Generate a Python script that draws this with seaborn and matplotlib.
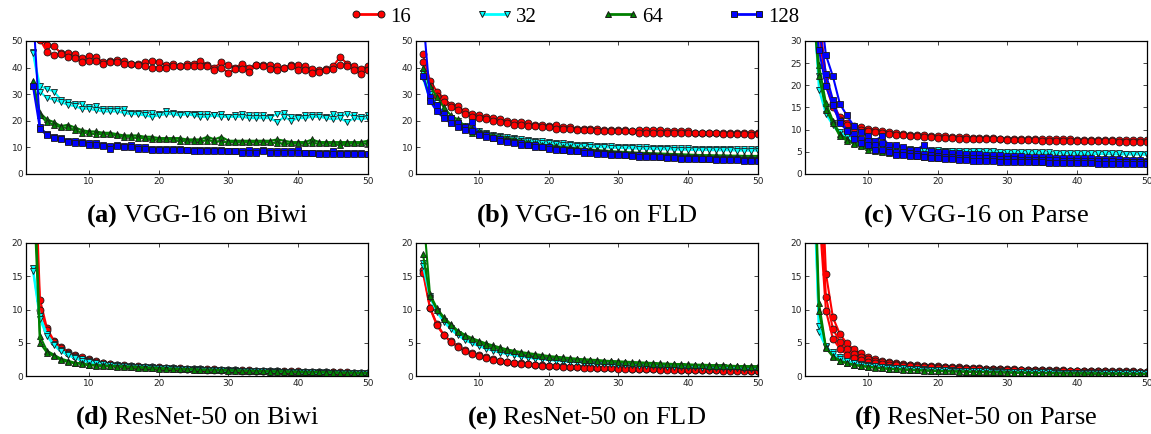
import seaborn as sns
import matplotlib.pyplot as plt
import pandas as pd
from matplotlib.lines import Line2D

sns.set_theme(style="ticks", rc={"xtick.direction": "in", "ytick.direction": "in",
                                 "xtick.top": True, "ytick.right": True})
plt.rcParams["mathtext.fontset"] = "custom"
plt.rcParams["mathtext.rm"] = "Liberation Serif"
plt.rcParams["mathtext.bf"] = "Liberation Serif:bold"

# epochs 2..50, each list below holds one training run
epochs = list(range(2, 51))
batch_sizes = ["16", "32", "64", "128"]
colors = ["#ff0000", "#00ffff", "#008000", "#0000ff"]
markers = ["o", "v", "^", "s"]

# (a) VGG-16 on Biwi
vgg_biwi_16 = [
    [58, 51, 48.5, 48, 45.5, 45.5, 45, 43.5, 44.5, 44,
     42, 42.3, 43, 42.5, 41.5, 41.5, 42, 42.5, 42, 41,
     41.5, 40.5, 41.5, 41.5, 42.5, 41, 40, 42, 41, 40,
     41.5, 40, 41, 41, 41, 40.5, 40, 41, 41, 40.5,
     39.5, 39, 39.5, 40.5, 44, 41.5, 40.5, 39.5, 40.5],
    [56, 50.5, 46, 44.8, 45, 44, 43.5, 42, 42.5, 42.5,
     41.5, 42, 42, 41.5, 41.5, 41, 40.5, 40, 40, 40,
     40.5, 40.5, 40.5, 40.5, 40.5, 40.5, 39, 40, 38, 39.5,
     39.5, 38.5, 41, 40.5, 39.5, 39, 40, 40.5, 39, 39,
     38, 38.5, 39, 39.5, 41, 40.5, 39, 37.5, 39],
]
vgg_biwi_32 = [
    [46, 33, 32, 31, 28, 27, 26.5, 26.5, 25, 25.5,
     24.5, 24.5, 24.5, 24.5, 23, 23, 23, 23, 22.5, 23.5,
     23, 22.5, 22.5, 22.5, 22.5, 22.5, 22, 22.5, 21.5, 22,
     22.5, 22, 22, 22, 21.5, 22.5, 23, 21.5, 21.5, 22,
     22, 22, 21.5, 22.5, 22, 22.5, 22, 21.5, 22],
    [45.5, 31, 28.5, 28, 27, 26, 25.5, 24.5, 24.5, 24,
     23.5, 23.5, 23.5, 23, 22.5, 22.5, 22, 21.5, 22, 22.5,
     22.5, 22, 22.5, 22, 21.5, 21.5, 22, 21.5, 21.5, 21.5,
     21.5, 21, 21, 21, 21, 19.5, 21.5, 20, 21, 21,
     21.5, 21.5, 21, 20.5, 21, 19.5, 21, 20.5, 21],
]
vgg_biwi_64 = [
    [35, 23, 20.5, 19.5, 18, 18.5, 17.5, 16.5, 16, 16,
     15.5, 15.5, 15, 14.5, 14.5, 14.5, 14, 14, 13.5, 13.5,
     13.5, 13.5, 13, 13, 13, 14, 13, 14, 12.5, 12.5,
     12.5, 12.5, 12.5, 12.5, 12.5, 13, 12.5, 12, 12, 12,
     13, 12, 12, 12, 12, 12, 12, 12, 12.5],
    [33, 22, 19.5, 18.5, 17.5, 17.5, 16.5, 15.5, 15.5, 15,
     15, 15, 14.5, 14, 14, 13.5, 13.5, 13, 13, 13,
     13, 12.5, 12.5, 12.5, 12.5, 12.5, 12.5, 12, 12, 12,
     12, 12, 12, 12, 12, 11.5, 11.5, 11.5, 11.5, 11.5,
     11.5, 11.5, 11.5, 11.5, 11, 11.5, 11.5, 11.5, 11.5],
]
vgg_biwi_128 = [
    [62, 17.5, 15, 14, 13.5, 12.5, 12.5, 12, 11.5, 11.5,
     11, 10.5, 11, 10.5, 11, 10, 10, 9.5, 9.5, 9.5,
     9.5, 9.5, 9, 9, 9, 9, 9, 9, 8.5, 8.5,
     8.5, 9, 8.5, 9, 8.5, 8.5, 8.5, 8.5, 9, 8,
     8, 8, 8, 8.5, 8, 8, 8, 8, 7.5],
    [33, 17, 14.5, 13.5, 13, 12, 11.5, 11.5, 11, 11,
     10.5, 9.5, 10.5, 10, 10, 9.5, 9.5, 9, 9, 9,
     9, 9, 9, 8.5, 8.5, 8.5, 8.5, 8.5, 8.5, 8.5,
     8, 8, 8, 8.5, 8, 8, 8, 8, 8, 8,
     8, 7.5, 7.5, 7.5, 7.5, 7.5, 7.5, 7.5, 7.5],
]

# (b) VGG-16 on FLD
vgg_fld_16 = [
    [45, 35, 31, 28.5, 26, 25.5, 23.5, 22.5, 22, 21.5,
     21, 20.5, 20, 19.5, 19.5, 19, 18.5, 18.5, 18, 18.5,
     17.5, 17.5, 17, 17, 17, 17, 16.5, 16.5, 16.5, 16.5,
     16, 16.5, 16.5, 16.5, 16.5, 16, 16, 16, 16, 15.5,
     15.5, 15.5, 15.5, 15.5, 15.5, 15.5, 15.5, 15.5, 15.5],
    [42, 33, 29.5, 27, 25, 24, 22.5, 21.5, 21, 20.5,
     20, 19.5, 19, 18.5, 18.5, 18, 18, 17.5, 17.5, 17,
     17, 17, 16.5, 16.5, 16.5, 16, 16, 16, 16, 16,
     16, 15.5, 15.5, 15.5, 15.5, 15.5, 15.5, 15.5, 15.5, 15.5,
     15.5, 15.5, 15.5, 15, 15, 15, 15, 14.8, 15],
]
vgg_fld_32 = [
    [38, 30, 26, 23, 21, 20, 18, 17, 16, 15.5,
     14.8, 14.3, 13.8, 13.5, 13, 12.8, 12.5, 12.3, 12, 11.8,
     11.5, 11.3, 11, 11, 10.8, 10.6, 10.5, 10.4, 10.3, 10.2,
     10.1, 10, 10, 9.9, 9.8, 9.8, 9.7, 9.6, 9.6, 9.5,
     9.5, 9.5, 9.4, 9.4, 9.4, 9.3, 9.3, 9.3, 9.3],
    [36, 28, 25, 22.5, 20, 19, 17.5, 16.5, 15.5, 15,
     14.3, 13.8, 13.3, 13, 12.5, 12.3, 12, 11.8, 11.5, 11.3,
     11, 10.8, 10.5, 10.5, 10.3, 10.1, 10, 9.9, 9.8, 9.7,
     9.6, 9.5, 9.5, 9.4, 9.3, 9.3, 9.2, 9.1, 9.1, 9,
     9, 9, 8.9, 8.9, 8.9, 8.8, 8.8, 8.8, 8.8],
]
vgg_fld_64 = [
    [40, 33, 29, 25, 22, 20.5, 18, 17, 16, 15,
     14.5, 14, 13.5, 13, 12.5, 12, 11.5, 11, 10.8, 10.5,
     10.2, 10, 9.7, 9.5, 9.2, 9, 8.8, 8.6, 8.4, 8.3,
     8.1, 8, 7.9, 7.8, 7.7, 7.6, 7.5, 7.4, 7.3, 7.2,
     7.1, 7.1, 7, 7, 6.9, 6.9, 6.8, 6.8, 6.8],
    [37, 29, 25, 22, 20, 18, 17, 15.5, 15, 14.5,
     13.5, 13, 12.5, 12, 11.5, 11, 10.8, 10.5, 10.2, 9.8,
     9.5, 9.3, 9, 8.8, 8.5, 8.3, 8.1, 7.9, 7.7, 7.5,
     7.4, 7.2, 7.1, 7, 6.9, 6.8, 6.7, 6.6, 6.5, 6.4,
     6.4, 6.3, 6.3, 6.2, 6.2, 6.1, 6.1, 6, 6],
]
vgg_fld_128 = [
    [60, 29, 26, 22.5, 21, 19, 17.5, 19.5, 15, 14.5,
     13.5, 13, 12.5, 12, 11.5, 11, 10.8, 10.3, 10, 9.5,
     9, 9, 8.8, 8.5, 8.3, 8, 7.8, 7.5, 7.5, 7.3,
     7, 7, 6.8, 6.8, 6.5, 6.5, 6.3, 6.2, 6, 6,
     5.8, 5.8, 5.6, 5.6, 5.5, 5.5, 5.4, 5.3, 5.2],
    [37, 27.5, 23.5, 21, 19, 17.5, 16.5, 16, 14.5, 14,
     13.5, 12.5, 12, 11.5, 11, 10.8, 10.3, 10, 9.5, 9,
     9, 8.5, 8.5, 8, 8, 7.5, 7.5, 7.3, 7, 7,
     6.8, 6.5, 6.5, 6.3, 6.3, 6, 6, 5.8, 5.8, 5.6,
     5.5, 5.5, 5.3, 5.3, 5.2, 5.2, 5, 5, 4.9],
]

# (c) VGG-16 on Parse
vgg_parse_16 = [
    [48, 36, 22, 16, 12.8, 11.5, 10.8, 10.5, 10.2, 10,
     9.7, 9.4, 9.2, 9.1, 8.9, 8.8, 8.7, 8.6, 8.5, 8.5,
     8.4, 8.3, 8.3, 8.2, 8.1, 8.1, 8.1, 8, 8, 8,
     7.9, 7.9, 7.9, 7.8, 7.8, 7.8, 7.8, 7.8, 7.7, 7.7,
     7.7, 7.7, 7.7, 7.6, 7.6, 7.6, 7.6, 7.6, 7.6],
    [44, 32, 20, 15, 12.2, 11, 10.3, 10, 9.7, 9.5,
     9.2, 9, 8.8, 8.7, 8.6, 8.5, 8.4, 8.3, 8.2, 8.2,
     8.1, 8, 8, 7.9, 7.9, 7.8, 7.8, 7.8, 7.7, 7.7,
     7.7, 7.6, 7.6, 7.5, 7.5, 7.5, 7.5, 7.5, 7.4, 7.4,
     7.4, 7.4, 7.4, 7.4, 7.3, 7.3, 7.3, 7.3, 7.3],
]
vgg_parse_32 = [
    [45, 19, 13.5, 11, 9, 8, 7, 6.5, 6.2, 6,
     5.8, 5.7, 5.6, 5.5, 5.4, 5.3, 5.3, 5.2, 5.2, 5.1,
     5.1, 5, 5, 5, 4.9, 4.9, 4.9, 4.8, 4.8, 4.8,
     4.7, 4.7, 4.7, 4.7, 4.6, 4.6, 4.6, 4.6, 4.5, 4.5,
     4.5, 4.5, 4.5, 4.4, 4.4, 4.4, 4.4, 4.4, 4.3],
    [40, 22, 15, 11.5, 9.5, 8.5, 7.5, 7, 6.5, 6.2,
     6, 5.9, 5.8, 5.7, 5.6, 5.5, 5.5, 5.4, 5.4, 5.3,
     5.3, 5.2, 5.2, 5.2, 5.1, 5.1, 5.1, 5, 5, 5,
     5, 4.9, 4.9, 4.9, 4.9, 4.8, 4.8, 4.8, 4.8, 4.8,
     4.7, 4.7, 4.7, 4.7, 4.7, 4.6, 4.6, 4.6, 4.6],
]
vgg_parse_64 = [
    [45, 24.5, 16, 12, 9, 7.8, 7, 6.5, 6, 5.5,
     5.2, 5, 4.8, 4.6, 4.4, 4.2, 4.1, 4, 3.9, 3.8,
     3.7, 3.6, 3.5, 3.4, 3.4, 3.3, 3.3, 3.2, 3.2, 3.1,
     3.1, 3, 3, 2.9, 2.9, 2.9, 2.8, 2.8, 2.8, 2.7,
     2.7, 2.7, 2.7, 2.6, 2.6, 2.6, 2.6, 2.5, 2.5],
    [40, 22, 14.5, 11.5, 8.5, 7.5, 6.8, 6.3, 5.5, 5.2,
     5, 4.8, 4.6, 4.4, 4.2, 4, 3.9, 3.8, 3.7, 3.6,
     3.5, 3.4, 3.3, 3.3, 3.2, 3.2, 3.1, 3.1, 3, 3,
     2.9, 2.9, 2.8, 2.8, 2.8, 2.7, 2.7, 2.7, 2.6, 2.6,
     2.6, 2.5, 2.5, 2.5, 2.5, 2.4, 2.4, 2.4, 2.3],
]
vgg_parse_128 = [
    [55, 40, 26.8, 22, 15.8, 13.2, 10.8, 9.5, 8.5, 7.5,
     8.5, 6.5, 6.5, 6, 5.5, 5.5, 6.5, 5.3, 5, 4.9,
     4.8, 4.7, 4.6, 4.5, 4.4, 4.3, 4.2, 4.2, 4.1, 4,
     4, 3.9, 3.9, 3.8, 3.8, 3.7, 3.7, 3.6, 3.6, 3.5,
     3.5, 3.4, 3.4, 3.3, 3.3, 3.2, 3.2, 3.1, 3],
    [50, 33, 22.5, 16.7, 12, 10, 9, 8, 7.5, 6.5,
     7, 5.5, 5, 5, 4.8, 4.5, 4.5, 4.2, 4, 3.9,
     3.8, 3.7, 3.6, 3.6, 3.5, 3.5, 3.4, 3.4, 3.3, 3.3,
     3.2, 3.2, 3.2, 3.1, 3.1, 3.1, 3, 3, 3, 3,
     2.9, 2.9, 2.9, 2.9, 2.8, 2.8, 2.8, 2.8, 2.8],
    [45, 28, 19.8, 15.5, 11.5, 9.8, 8, 7, 6.5, 5.5,
     5.5, 5, 4.3, 4.3, 4, 4, 3.8, 3.7, 3.5, 3.4,
     3.3, 3.2, 3.1, 3, 3, 2.9, 2.9, 2.8, 2.8, 2.7,
     2.7, 2.6, 2.6, 2.6, 2.5, 2.5, 2.5, 2.4, 2.4, 2.4,
     2.4, 2.3, 2.3, 2.3, 2.3, 2.2, 2.2, 2.2, 2.2],
]

# (d) ResNet-50 on Biwi
resnet_biwi_16 = [
    [40, 11.5, 7.2, 5.3, 4.4, 3.6, 3.1, 2.8, 2.5, 2.2,
     2, 1.8, 1.7, 1.6, 1.5, 1.45, 1.4, 1.35, 1.3, 1.25,
     1.2, 1.15, 1.1, 1.1, 1.05, 1, 1, 0.95, 0.9, 0.9,
     0.85, 0.85, 0.8, 0.8, 0.75, 0.75, 0.7, 0.7, 0.7, 0.65,
     0.65, 0.6, 0.6, 0.6, 0.55, 0.55, 0.5, 0.5, 0.5],
    [35, 10, 6.9, 5.1, 4.2, 3.5, 3, 2.6, 2.4, 2.1,
     1.9, 1.75, 1.6, 1.5, 1.45, 1.4, 1.35, 1.3, 1.25, 1.2,
     1.15, 1.1, 1.05, 1.05, 1, 0.95, 0.95, 0.9, 0.85, 0.85,
     0.8, 0.8, 0.75, 0.75, 0.7, 0.7, 0.65, 0.65, 0.65, 0.6,
     0.6, 0.55, 0.55, 0.55, 0.5, 0.5, 0.45, 0.45, 0.45],
]
resnet_biwi_32 = [
    [16.2, 9, 6.3, 4.8, 3.9, 3.3, 2.8, 2.5, 2.2, 2,
     1.85, 1.7, 1.6, 1.5, 1.45, 1.4, 1.35, 1.3, 1.25, 1.2,
     1.15, 1.1, 1.05, 1, 1, 0.95, 0.9, 0.9, 0.85, 0.85,
     0.8, 0.8, 0.75, 0.75, 0.7, 0.7, 0.65, 0.65, 0.6, 0.6,
     0.6, 0.55, 0.55, 0.5, 0.5, 0.5, 0.45, 0.45, 0.45],
    [15.8, 8.5, 6, 4.6, 3.7, 3.1, 2.7, 2.3, 2.1, 1.9,
     1.75, 1.65, 1.55, 1.45, 1.4, 1.35, 1.3, 1.25, 1.2, 1.15,
     1.1, 1.05, 1, 0.95, 0.95, 0.9, 0.85, 0.85, 0.8, 0.8,
     0.75, 0.75, 0.7, 0.7, 0.65, 0.65, 0.6, 0.6, 0.55, 0.55,
     0.55, 0.5, 0.5, 0.45, 0.45, 0.45, 0.4, 0.4, 0.4],
]
resnet_biwi_64 = [
    [35, 6, 3.8, 3.2, 2.6, 2.3, 2, 1.9, 1.7, 1.65,
     1.6, 1.55, 1.5, 1.45, 1.4, 1.35, 1.3, 1.25, 1.2, 1.15,
     1.1, 1.05, 1.05, 1, 0.95, 0.95, 0.9, 0.9, 0.85, 0.85,
     0.8, 0.8, 0.75, 0.75, 0.7, 0.7, 0.7, 0.65, 0.65, 0.6,
     0.6, 0.6, 0.55, 0.55, 0.5, 0.5, 0.5, 0.45, 0.45],
    [30, 5, 3.5, 3, 2.4, 2.1, 1.9, 1.8, 1.6, 1.55,
     1.5, 1.45, 1.4, 1.35, 1.3, 1.25, 1.2, 1.15, 1.1, 1.05,
     1.05, 1, 1, 0.95, 0.9, 0.9, 0.85, 0.85, 0.8, 0.8,
     0.75, 0.75, 0.7, 0.7, 0.65, 0.65, 0.65, 0.6, 0.6, 0.55,
     0.55, 0.55, 0.5, 0.5, 0.45, 0.45, 0.45, 0.4, 0.4],
]

# (e) ResNet-50 on FLD
resnet_fld_16 = [
    [16, 10.3, 7.8, 6.2, 5.2, 4.5, 3.9, 3.4, 3.1, 2.8,
     2.5, 2.3, 2.15, 2, 1.9, 1.8, 1.7, 1.6, 1.55, 1.5,
     1.45, 1.4, 1.35, 1.3, 1.3, 1.25, 1.2, 1.2, 1.15, 1.15,
     1.1, 1.1, 1.05, 1.05, 1, 1, 1, 0.95, 0.95, 0.95,
     0.9, 0.9, 0.9, 0.85, 0.85, 0.85, 0.85, 0.8, 0.8],
    [15.5, 10.2, 7.6, 6.1, 5.1, 4.4, 3.8, 3.3, 3, 2.7,
     2.45, 2.25, 2.1, 1.95, 1.85, 1.75, 1.65, 1.55, 1.5, 1.45,
     1.4, 1.35, 1.3, 1.25, 1.25, 1.2, 1.15, 1.15, 1.1, 1.1,
     1.05, 1.05, 1, 1, 0.95, 0.95, 0.95, 0.9, 0.9, 0.9,
     0.85, 0.85, 0.85, 0.8, 0.8, 0.8, 0.8, 0.75, 0.75],
]
resnet_fld_32 = [
    [17, 12, 9.8, 8.3, 7.2, 6.3, 5.6, 5.1, 4.6, 4.2,
     3.9, 3.6, 3.4, 3.2, 3, 2.85, 2.7, 2.6, 2.5, 2.4,
     2.3, 2.2, 2.15, 2.1, 2, 1.95, 1.9, 1.85, 1.8, 1.75,
     1.7, 1.65, 1.6, 1.6, 1.55, 1.5, 1.5, 1.45, 1.4, 1.4,
     1.35, 1.35, 1.3, 1.3, 1.25, 1.25, 1.2, 1.2, 1.15],
    [16.5, 11.8, 9.6, 8.1, 7, 6.1, 5.4, 4.9, 4.5, 4.1,
     3.8, 3.5, 3.3, 3.1, 2.9, 2.75, 2.6, 2.5, 2.4, 2.3,
     2.2, 2.1, 2.05, 2, 1.9, 1.85, 1.8, 1.75, 1.7, 1.65,
     1.6, 1.55, 1.5, 1.5, 1.45, 1.4, 1.4, 1.35, 1.3, 1.3,
     1.25, 1.25, 1.2, 1.2, 1.15, 1.15, 1.1, 1.1, 1.05],
]
resnet_fld_64 = [
    [25, 12.3, 10.2, 8.8, 7.8, 6.8, 6.2, 5.7, 5.3, 4.9,
     4.6, 4.3, 4, 3.8, 3.6, 3.45, 3.3, 3.15, 3, 2.9,
     2.8, 2.7, 2.6, 2.5, 2.45, 2.4, 2.3, 2.25, 2.2, 2.15,
     2.1, 2.05, 2, 1.95, 1.9, 1.85, 1.8, 1.8, 1.75, 1.7,
     1.7, 1.65, 1.6, 1.6, 1.55, 1.5, 1.5, 1.45, 1.45],
    [18.3, 12, 10, 8.6, 7.6, 6.6, 6, 5.5, 5.1, 4.7,
     4.4, 4.1, 3.9, 3.7, 3.5, 3.35, 3.2, 3.05, 2.9, 2.8,
     2.7, 2.6, 2.5, 2.45, 2.4, 2.3, 2.25, 2.2, 2.1, 2.05,
     2, 1.95, 1.9, 1.85, 1.8, 1.75, 1.75, 1.7, 1.65, 1.6,
     1.6, 1.55, 1.5, 1.5, 1.45, 1.45, 1.4, 1.35, 1.35],
]

# (f) ResNet-50 on Parse
resnet_parse_16 = [
    [60, 40, 15.4, 8.8, 6.3, 4.9, 4, 3.4, 2.9, 2.6,
     2.3, 2.1, 1.95, 1.8, 1.7, 1.6, 1.55, 1.5, 1.45, 1.4,
     1.35, 1.3, 1.25, 1.2, 1.15, 1.1, 1.1, 1.05, 1, 1,
     0.95, 0.95, 0.9, 0.9, 0.85, 0.85, 0.85, 0.8, 0.8, 0.8,
     0.75, 0.75, 0.75, 0.7, 0.7, 0.7, 0.7, 0.65, 0.65],
    [50, 30, 11.9, 7.1, 5.1, 4, 3.3, 2.8, 2.5, 2.3,
     2.1, 1.9, 1.8, 1.7, 1.6, 1.5, 1.45, 1.4, 1.35, 1.3,
     1.25, 1.2, 1.15, 1.1, 1.1, 1.05, 1, 1, 0.95, 0.95,
     0.9, 0.9, 0.85, 0.85, 0.8, 0.8, 0.8, 0.75, 0.75, 0.75,
     0.7, 0.7, 0.7, 0.65, 0.65, 0.65, 0.65, 0.6, 0.6],
    [45, 25, 9.8, 5.6, 4.1, 3.2, 2.7, 2.4, 2.1, 1.9,
     1.8, 1.7, 1.6, 1.5, 1.45, 1.4, 1.35, 1.3, 1.25, 1.2,
     1.15, 1.1, 1.05, 1, 1, 0.95, 0.95, 0.9, 0.9, 0.85,
     0.85, 0.8, 0.8, 0.75, 0.75, 0.75, 0.7, 0.7, 0.7, 0.65,
     0.65, 0.65, 0.6, 0.6, 0.6, 0.6, 0.55, 0.55, 0.55],
]
resnet_parse_32 = [
    [40, 6.6, 4.3, 3.6, 2.8, 2.3, 2, 1.8, 1.6, 1.5,
     1.4, 1.3, 1.25, 1.2, 1.1, 1.05, 1, 0.95, 0.9, 0.88,
     0.85, 0.82, 0.8, 0.77, 0.75, 0.72, 0.7, 0.68, 0.65, 0.63,
     0.62, 0.6, 0.58, 0.57, 0.55, 0.54, 0.52, 0.5, 0.5, 0.48,
     0.47, 0.46, 0.45, 0.44, 0.43, 0.42, 0.41, 0.4, 0.4],
    [35, 7.5, 4.5, 3.3, 2.6, 2.2, 1.9, 1.7, 1.55, 1.45,
     1.35, 1.25, 1.2, 1.15, 1.05, 1, 0.95, 0.9, 0.87, 0.84,
     0.81, 0.78, 0.76, 0.73, 0.71, 0.69, 0.67, 0.65, 0.63, 0.61,
     0.6, 0.58, 0.56, 0.55, 0.53, 0.52, 0.5, 0.49, 0.48, 0.47,
     0.46, 0.45, 0.44, 0.43, 0.42, 0.41, 0.4, 0.39, 0.38],
]
resnet_parse_64 = [
    [45, 11, 4.3, 3, 2.3, 2, 1.7, 1.55, 1.4, 1.3,
     1.2, 1.1, 1.05, 1, 0.95, 0.9, 0.85, 0.82, 0.8, 0.75,
     0.72, 0.7, 0.67, 0.65, 0.62, 0.6, 0.58, 0.56, 0.54, 0.52,
     0.5, 0.49, 0.48, 0.46, 0.45, 0.44, 0.43, 0.42, 0.41, 0.4,
     0.39, 0.38, 0.37, 0.36, 0.35, 0.34, 0.33, 0.32, 0.31],
    [40, 9.8, 4.2, 2.9, 2.2, 1.9, 1.6, 1.5, 1.35, 1.25,
     1.15, 1.05, 1, 0.95, 0.9, 0.85, 0.8, 0.77, 0.74, 0.71,
     0.68, 0.65, 0.63, 0.61, 0.59, 0.57, 0.55, 0.53, 0.51, 0.5,
     0.48, 0.47, 0.45, 0.44, 0.43, 0.42, 0.41, 0.4, 0.39, 0.38,
     0.37, 0.36, 0.35, 0.34, 0.33, 0.32, 0.31, 0.3, 0.3],
]

# label, title, series, y max, y step, (left, top) of the axes in pixels
panels = [
    ("(a)", "VGG-16 on Biwi", [vgg_biwi_16, vgg_biwi_32, vgg_biwi_64, vgg_biwi_128], 50, 10, (26, 41)),
    ("(b)", "VGG-16 on FLD", [vgg_fld_16, vgg_fld_32, vgg_fld_64, vgg_fld_128], 50, 10, (416, 41)),
    ("(c)", "VGG-16 on Parse", [vgg_parse_16, vgg_parse_32, vgg_parse_64, vgg_parse_128], 30, 5, (805, 41)),
    ("(d)", "ResNet-50 on Biwi", [resnet_biwi_16, resnet_biwi_32, resnet_biwi_64], 20, 5, (26, 243)),
    ("(e)", "ResNet-50 on FLD", [resnet_fld_16, resnet_fld_32, resnet_fld_64], 20, 5, (416, 243)),
    ("(f)", "ResNet-50 on Parse", [resnet_parse_16, resnet_parse_32, resnet_parse_64], 20, 5, (805, 243)),
]

W, H = 1151, 434
AX_W, AX_H = 342, 133

fig = plt.figure(figsize=(W / 100, H / 100), dpi=100)

for label, title, series, ymax, ystep, (left, top) in panels:
    rows = []
    for bs, runs in zip(batch_sizes, series):
        for r, vals in enumerate(runs):
            assert len(vals) == len(epochs), (title, bs, r, len(vals))
            for ep, v in zip(epochs, vals):
                rows.append((ep, v, bs, r))
    df = pd.DataFrame(rows, columns=["epoch", "error", "batch", "run"])
    used = batch_sizes[:len(series)]

    ax = fig.add_axes([left / W, 1 - (top + AX_H) / H, AX_W / W, AX_H / H])
    sns.lineplot(data=df, x="epoch", y="error", hue="batch", style="batch",
                 units="run", estimator=None, sort=False,
                 hue_order=used, style_order=used,
                 palette=dict(zip(batch_sizes, colors)),
                 markers=dict(zip(batch_sizes, markers)), dashes=False,
                 linewidth=1.5, markersize=5, markeredgecolor="k",
                 markeredgewidth=0.6, legend=False, ax=ax)
    ax.set_xlim(1, 50)
    ax.set_ylim(0, ymax)
    ax.set_xticks([10, 20, 30, 40, 50])
    ax.set_yticks(list(range(0, ymax + 1, ystep)))
    ax.set_xlabel("")
    ax.set_ylabel("")
    ax.tick_params(labelsize=6.5, length=3, width=0.6, pad=2, labelcolor="#222222")
    for s in ax.spines.values():
        s.set_linewidth(0.9)
        s.set_color("black")

    cx = (left + AX_W / 2) / W
    cy = 1 - (top + AX_H + 42) / H
    fig.text(cx, cy, r"$\mathbf{" + label + "}$ " + title, ha="center", va="center",
             fontsize=19, family="Liberation Serif", color="black")

handles = [Line2D([], [], color=c, marker=m, markersize=5, markeredgecolor="k",
                  markeredgewidth=0.7, linewidth=2) for c, m in zip(colors, markers)]
leg = fig.legend(handles, batch_sizes, loc="center", bbox_to_anchor=(0.499, 0.961), ncol=4,
                 frameon=False, numpoints=2, handlelength=1.8, handletextpad=0.15,
                 columnspacing=3.1, prop={"family": "Liberation Serif", "size": 15})
for t in leg.get_texts():
    t.set_color("black")

fig.savefig("out.png", dpi=100)
